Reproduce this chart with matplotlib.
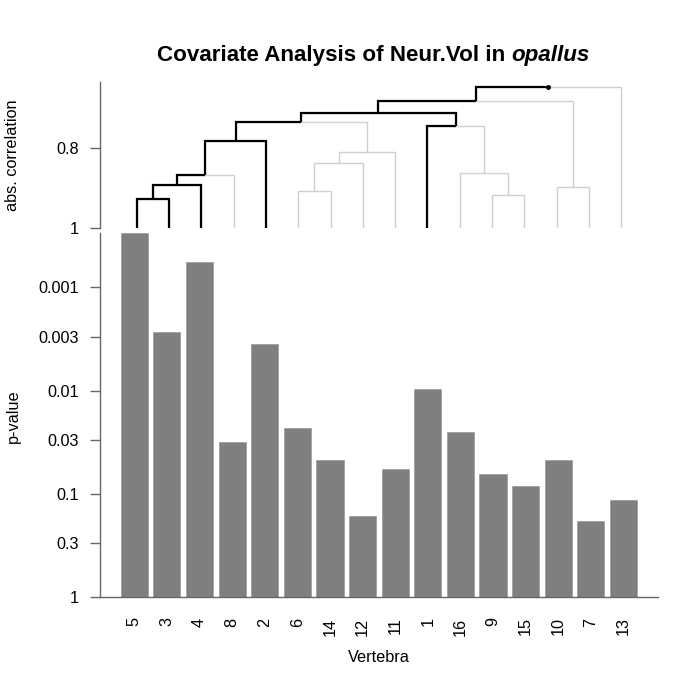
import numpy as np
import matplotlib
matplotlib.use("Agg")
import matplotlib.pyplot as plt

plt.rcParams['font.family'] = ['Liberation Sans', 'DejaVu Sans']

# ---------------- data ----------------
vertebrae = ["5", "3", "4", "8", "2", "6", "14", "12", "11", "1", "16", "9", "15", "10", "7", "13"]
p_values = [0.0003, 0.00272, 0.000568, 0.0312, 0.00353, 0.0230, 0.0469, 0.162,
            0.0573, 0.00964, 0.0253, 0.064, 0.0843, 0.0472, 0.182, 0.114]
p_ticks = [1, 0.3, 0.1, 0.03, 0.01, 0.003, 0.001]
p_tick_labels = ["1", "0.3", "0.1", "0.03", "0.01", "0.003", "0.001"]

# dendrogram merges (m0..m14): children are leaf names or earlier merges
merge_left = ["5", "m0", "m1", "m2", "6", "m4", "m5", "m3", "9", "16", "1", "m7", "10", "m11", "m13"]
merge_right = ["3", "4", "8", "2", "14", "12", "11", "m6", "15", "m8", "m9", "m10", "7", "m12", "13"]
merge_corr = [0.928, 0.892, 0.8675, 0.784, 0.908, 0.839, 0.81, 0.735,
              0.9175, 0.8625, 0.745, 0.7125, 0.898, 0.684, 0.648]
highlight = ["5", "3", "4", "2", "1"]
corr_ticks = [1, 0.8]
corr_tick_labels = ["1", "0.8"]

# ---------------- figure ----------------
W = H = 700
fig = plt.figure(figsize=(7, 7), dpi=100)

def box(x0, y0, x1, y1):
    return [x0 / W, 1 - y1 / H, (x1 - x0) / W, (y1 - y0) / H]

spine_col = "#666666"
fs = 11.7

# ---- bar panel ----
axb = fig.add_axes(box(100, 233.3, 658, 597.3))
xpos = np.arange(len(vertebrae))
axb.bar(xpos, [p - 1 for p in p_values], bottom=1, width=0.833,
        color="#7f7f7f", edgecolor="#9a9a9a", linewidth=0.5)
axb.set_yscale("log")
axb.set_ylim(1, min(p_values))
axb.set_xlim(-1.052, 16.06)
axb.set_yticks(p_ticks)
axb.set_yticklabels(p_tick_labels)
axb.yaxis.set_minor_locator(matplotlib.ticker.NullLocator())
axb.set_xticks(xpos)
axb.set_xticklabels(vertebrae, rotation=90)
axb.tick_params(axis="x", length=0, pad=14.5, labelsize=fs)
axb.tick_params(axis="y", length=7.2, width=1, color=spine_col, pad=8.2, labelsize=fs)
for s in ["top", "right"]:
    axb.spines[s].set_visible(False)
for s in ["left", "bottom"]:
    axb.spines[s].set_color(spine_col)
    axb.spines[s].set_linewidth(1)

# ---- dendrogram panel ----
axd = fig.add_axes(box(100, 81.7, 658, 227.7))
axd.set_xlim(-1.136, 16.139)
axd.set_ylim(1.0, 0.635)

pos = {name: (float(i), 1.0) for i, name in enumerate(vertebrae)}
members = {name: {name} for name in vertebrae}
for k, (l, r, c) in enumerate(zip(merge_left, merge_right, merge_corr)):
    xl, yl = pos[l]
    xr, yr = pos[r]
    axd.plot([xl, xl, xr, xr], [yl, c, c, yr], color="#d0d0d0", lw=1.0,
             solid_joinstyle="miter", zorder=1)
    pos["m%d" % k] = ((xl + xr) / 2, c)
    members["m%d" % k] = members[l] | members[r]

hl = set(highlight)
for k, (l, r, c) in enumerate(zip(merge_left, merge_right, merge_corr)):
    xm, ym = pos["m%d" % k]
    for ch in (l, r):
        if members[ch] & hl:
            xc, yc = pos[ch]
            axd.plot([xm, xc, xc], [ym, ym, yc], color="black", lw=1.6,
                     solid_joinstyle="miter", solid_capstyle="butt", zorder=2)
root = pos["m%d" % (len(merge_corr) - 1)]
axd.plot([root[0]], [root[1]], "o", color="black", ms=2.5, zorder=3)

axd.set_yticks(corr_ticks)
axd.set_yticklabels(corr_tick_labels)
axd.set_xticks([])
axd.tick_params(axis="y", length=7.2, width=1, color=spine_col, pad=8.2, labelsize=fs)
for s in ["top", "right", "bottom"]:
    axd.spines[s].set_visible(False)
axd.spines["left"].set_color(spine_col)
axd.spines["left"].set_linewidth(1)
axd.patch.set_alpha(0)

# ---- labels ----
fig.text(12.5 / W, 1 - 155 / H, "abs. correlation", rotation=90, ha="center", va="center", fontsize=fs)
fig.text(13 / W, 1 - 416 / H, "p-value", rotation=90, ha="center", va="center", fontsize=fs)
fig.text(379 / W, 1 - 657 / H, "Vertebra", ha="center", va="center", fontsize=fs)

# ---- title (bold + bold italic) ----
renderer = fig.canvas.get_renderer()
tfs = 16.1
t1 = fig.text(0, 1 - 56 / H, "Covariate Analysis of Neur.Vol in ", fontsize=tfs,
              fontweight="bold", ha="left", va="center")
t2 = fig.text(0, 1 - 56 / H, "opallus", fontsize=tfs, fontweight="bold",
              fontstyle="italic", ha="left", va="center")
w1 = t1.get_window_extent(renderer).width
w2 = t2.get_window_extent(renderer).width
x0 = 373.5 - (w1 + w2) / 2
t1.set_x(x0 / W)
t2.set_x((x0 + w1) / W)

fig.savefig("out.png", dpi=100)
